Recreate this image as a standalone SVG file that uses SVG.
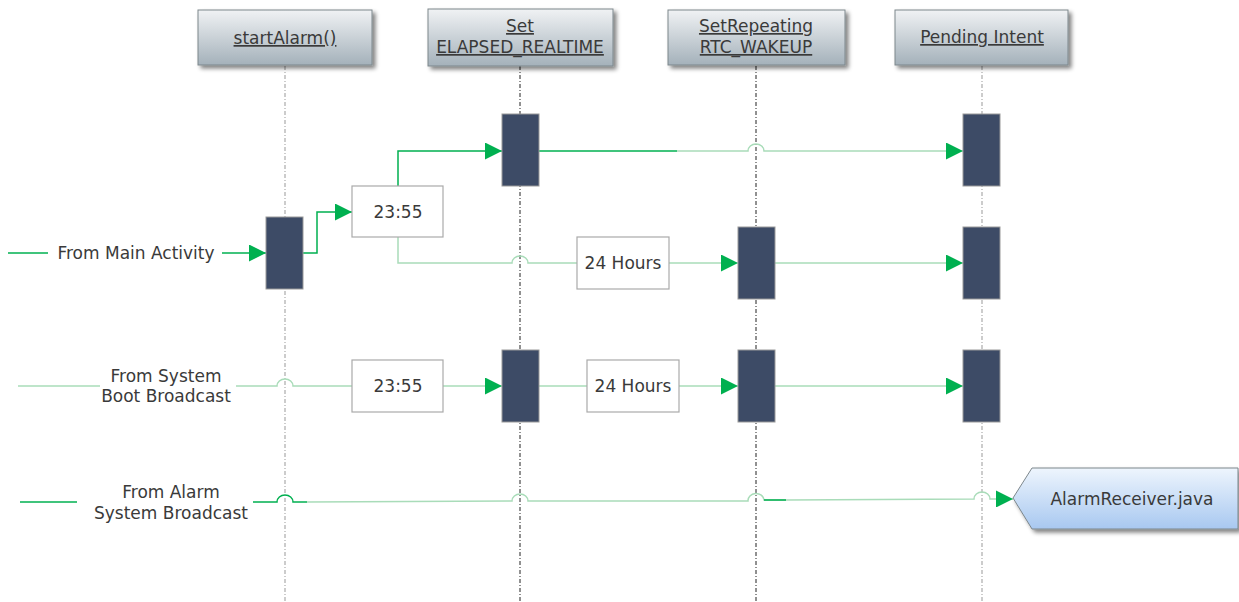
<svg xmlns="http://www.w3.org/2000/svg" width="1239" height="602" viewBox="0 0 1239 602">
<style>
text{font-family:"DejaVu Sans","Liberation Sans",sans-serif;font-size:17px;fill:#3a3a3a;text-anchor:middle}
.hd text{text-decoration:underline}
.life{stroke:#999;stroke-width:1;stroke-dasharray:4 2 1 2;fill:none}
.lifeD{stroke:#222;stroke-width:1;stroke-dasharray:4 2 1 2;fill:none}
.bar{fill:#3d4b66;stroke:#999;stroke-width:1}
.box{fill:#fff;stroke:#aaa;stroke-width:1.2}
.hbox{fill:url(#hg);stroke:#7d878c;stroke-width:1}
.c{fill:none;stroke:#00b050;stroke-width:1.5}
.p{fill:none;stroke:#a9dcb9;stroke-width:1.5}
</style>
<defs>
<linearGradient id="hg" x1="0" y1="0" x2="0" y2="1"><stop offset="0" stop-color="#f0f2f4"/><stop offset="1" stop-color="#a4b1ba"/></linearGradient>
<linearGradient id="bg" x1="0" y1="0" x2="0" y2="1"><stop offset="0" stop-color="#eef5fd"/><stop offset="1" stop-color="#a8c8f0"/></linearGradient>
<filter id="sh" x="-10%" y="-10%" width="130%" height="140%"><feGaussianBlur in="SourceAlpha" stdDeviation="2"/><feOffset dx="3" dy="3"/><feComponentTransfer><feFuncA type="linear" slope="0.5"/></feComponentTransfer><feMerge><feMergeNode/><feMergeNode in="SourceGraphic"/></feMerge></filter>
<marker id="ah" viewBox="0 0 10 10" refX="10" refY="5" markerWidth="17" markerHeight="17" markerUnits="userSpaceOnUse" orient="auto"><path d="M0,0 L10,5 L0,10 z" fill="#00b050"/></marker>
</defs>

<g id="lifelines">
<line class="life" x1="285" y1="66" x2="285" y2="602"/>
<line class="lifeD" x1="520" y1="66" x2="520" y2="602"/>
<line class="lifeD" x1="756" y1="66" x2="756" y2="602"/>
<line class="life" x1="982" y1="66" x2="982" y2="602"/>
</g>

<g class="hd">
<g id="startAlarm"><rect class="hbox" x="198" y="10" width="174" height="55" filter="url(#sh)"/><text x="285" y="44">startAlarm()</text></g>
<g id="setElapsed"><rect class="hbox" x="428" y="9" width="185" height="57" filter="url(#sh)"/><text x="520" y="32">Set</text><text x="520" y="53">ELAPSED_REALTIME</text></g>
<g id="setRepeating"><rect class="hbox" x="668" y="10" width="177" height="55" filter="url(#sh)"/><text x="756" y="32">SetRepeating</text><text x="756" y="53">RTC_WAKEUP</text></g>
<g id="pendingIntent"><rect class="hbox" x="895" y="10" width="173" height="55" filter="url(#sh)"/><text x="982" y="43">Pending Intent</text></g>
</g>

<g id="connectors">
<path class="c" d="M8,253 H48"/>
<path class="c" d="M222,253 H266" marker-end="url(#ah)"/>
<path class="c" d="M303,253 H317 V212 H352" marker-end="url(#ah)"/>
<path class="c" d="M398,186 V151 H502" marker-end="url(#ah)" stroke="#3cbf6a"/>
<path class="c" d="M539,151 H677"/>
<path class="p" d="M677,151 H748 A8,7 0 0 1 764,151 H963" marker-end="url(#ah)"/>
<path class="p" d="M398,237 V263 H512 A8,7 0 0 1 528,263 H577"/>
<path class="p" d="M669,263 H738" marker-end="url(#ah)"/>
<path class="p" d="M775,263 H963" marker-end="url(#ah)"/>
<path class="p" d="M18,386 H100"/>
<path class="p" d="M236,386 H277 A8,7 0 0 1 293,386 H352"/>
<path class="p" d="M443,386 H502" marker-end="url(#ah)"/>
<path class="p" d="M539,386 H587"/>
<path class="p" d="M679,386 H738" marker-end="url(#ah)"/>
<path class="p" d="M775,386 H963" marker-end="url(#ah)"/>
<path class="c" d="M20,502 H77" stroke="#3cbf6a"/>
<path class="c" d="M253,502 H277 A8,7 0 0 1 293,502 H307" stroke="#3cbf6a"/>
<path class="p" d="M307,502 L512,501 A8,7 0 0 1 528,501 H700" stroke="#8fd3a5"/>
<path class="p" d="M700,501 H748 A8,7 0 0 1 764,500 H786" stroke="#8fd3a5"/>
<path class="c" d="M764,500 H786" stroke="#3cbf6a"/>
<path class="p" d="M786,500 L974,499 A8,7 0 0 1 990,499 L1013,499" stroke="#8fd3a5" marker-end="url(#ah)"/>
</g>

<g id="bars">
<rect class="bar" x="266" y="217" width="37" height="72"/>
<rect class="bar" x="502" y="114" width="37" height="72"/>
<rect class="bar" x="963" y="114" width="37" height="72"/>
<rect class="bar" x="738" y="227" width="37" height="72"/>
<rect class="bar" x="963" y="227" width="37" height="72"/>
<rect class="bar" x="502" y="350" width="37" height="72"/>
<rect class="bar" x="738" y="350" width="37" height="72"/>
<rect class="bar" x="963" y="350" width="37" height="72"/>
</g>

<g id="boxes">
<g id="t1"><rect class="box" x="352" y="186" width="91" height="51"/><text x="398" y="218">23:55</text></g>
<g id="h1"><rect class="box" x="577" y="237" width="92" height="52"/><text x="623" y="269">24 Hours</text></g>
<g id="t2"><rect class="box" x="352" y="360" width="91" height="52"/><text x="398" y="392">23:55</text></g>
<g id="h2"><rect class="box" x="587" y="360" width="92" height="52"/><text x="633" y="392">24 Hours</text></g>
</g>

<g id="labels">
<text x="136" y="259">From Main Activity</text>
<text x="166" y="382">From System</text>
<text x="166" y="402">Boot Broadcast</text>
<text x="171" y="498">From Alarm</text>
<text x="171" y="519">System Broadcast</text>
</g>

<g id="alarmReceiver">
<polygon points="1013,498 1032,468 1238,468 1238,529 1032,529" fill="url(#bg)" stroke="#7d878c" stroke-width="1" filter="url(#sh)"/>
<text x="1132" y="505">AlarmReceiver.java</text>
</g>
</svg>
